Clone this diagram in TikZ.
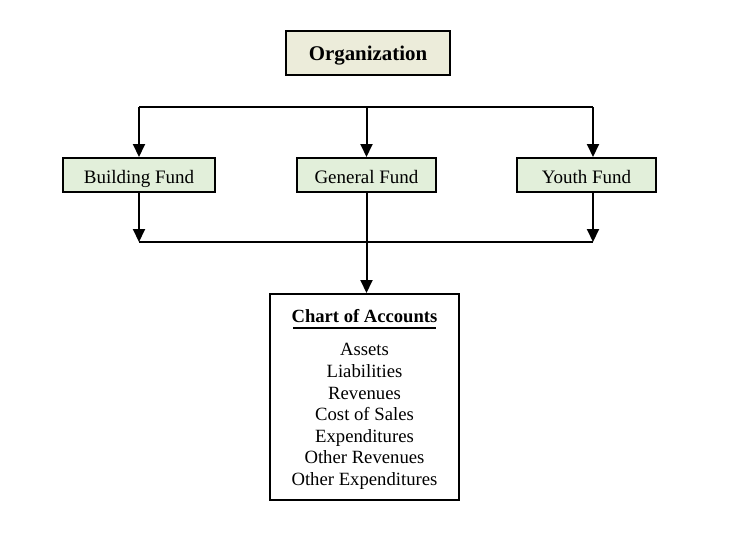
\documentclass[tikz,border=0pt]{standalone}
\usepackage{fontspec}
\setmainfont{Liberation Serif}
\usetikzlibrary{arrows.meta}
\begin{document}
\begin{tikzpicture}[x=1pt,y=-1pt,
  orgbox/.style={draw=black,line width=2pt,fill=orgfill,minimum width=164pt,minimum height=44pt,inner sep=0pt,text height=16pt,text depth=2pt,font=\fontsize{20.9}{24}\selectfont\bfseries},
  fundbox/.style={draw=black,line width=2pt,fill=fundfill,minimum height=34pt,inner sep=0pt,text height=17pt,text depth=0pt,font=\fontsize{19}{22}\selectfont},
  chartbox/.style={draw=black,line width=2pt,fill=white,minimum width=189pt,minimum height=206pt,inner sep=0pt},
  conn/.style={line width=2pt,draw=black},
  arr/.style={conn,-{Triangle[length=13pt,width=12pt]}}]
\definecolor{orgfill}{HTML}{ECECDA}
\definecolor{fundfill}{HTML}{E2EFDA}
\useasboundingbox (0,0) rectangle (729,536);
\fill[white] (0,0) rectangle (729,536);
\node[orgbox] (org) at (368,53) {Organization};
\node[fundbox,minimum width=152pt] (bf) at (139,175) {Building Fund};
\node[fundbox,minimum width=139pt] (gf) at (366.5,175) {General Fund};
\node[fundbox,minimum width=139pt] (yf) at (586.5,175) {Youth Fund};
\node[chartbox] (coa) at (364.5,397) {};
\node[font=\fontsize{18.6}{20}\selectfont\bfseries] (title) at (364.5,316) {Chart of Accounts};
\draw[line width=2pt] (293,328) coordinate (ul) -- (436,328) coordinate (ur);
\node[font=\fontsize{18.7}{21.6}\selectfont,align=center,anchor=north] (items) at (364.5,340)
  {Assets\\Liabilities\\Revenues\\Cost of Sales\\Expenditures\\Other Revenues\\Other Expenditures};
% top distribution line
\coordinate (tl) at (139,107);
\coordinate (tm) at (366.5,107);
\coordinate (tr) at (593,107);
\draw[conn] (tl) -- (tr);
\draw[arr] (tl) -- (tl |- bf.north);
\draw[arr] (tm) -- (gf.north);
\draw[arr] (tr) -- (tr |- yf.north);
% bottom collection line
\coordinate (bl) at (139,242);
\coordinate (br) at (593,242);
\draw[conn] (bl) -- (br);
\draw[arr] (bf.south) -- (bl);
\draw[arr] (br |- yf.south) -- (br);
\draw[arr] (gf.south) -- (coa.north -| gf.south);
\end{tikzpicture}
\end{document}
